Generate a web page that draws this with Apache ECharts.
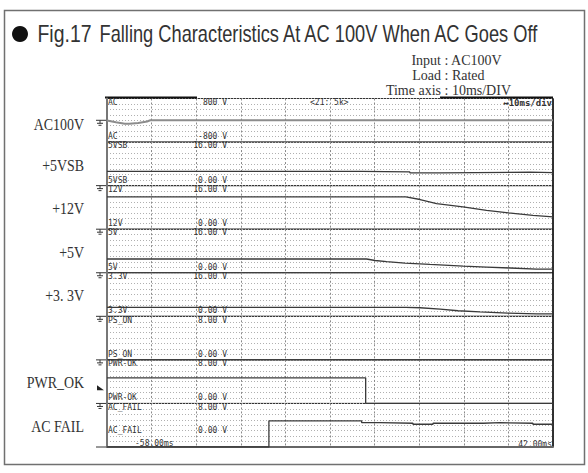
<!DOCTYPE html>
<html>
<head>
<meta charset="utf-8">
<script src="https://cdn.jsdelivr.net/npm/echarts@6/dist/echarts.min.js"></script>
<style>
html, body { margin: 0; padding: 0; background: #fff; }
#chart { width: 588px; height: 473px; }
</style>
</head>
<body>
<div id="chart"></div>
<script>
// time axis in ms, 0 = PWR_OK falling edge (trigger)
var timeMin = -58, timeMax = 42, timeStep = 10;

// channels, top to bottom
var chNames = ['AC', '5VSB', '12V', '5V', '3.3V', 'PS_ON', 'PWR-OK', 'AC_FAIL'];
var chLow = [-800, 0, 0, 0, 0, 0, 0, 0];
var chHigh = [800, 16, 16, 16, 16, 8, 8, 8];
var chLowText = ['-800 V', '0.00 V', '0.00 V', '0.00 V', '0.00 V', '0.00 V', '0.00 V', '0.00 V'];
var chHighText = ['800 V', '16.00 V', '16.00 V', '16.00 V', '16.00 V', '8.00 V', '8.00 V', '8.00 V'];
var sideLabels = ['AC100V', '+5VSB', '+12V', '+5V', '+3. 3V', '', 'PWR_OK', 'AC FAIL'];
var pwrOkTrigger = 2.8;

// traces, [ms, volts]
var acTrace = [[-58, -10], [-56, -75], [-54, -125], [-53, -130], [-51, -100], [-49, -45], [-48.3, 0], [42, 0]];
var vsb5Trace = [[-58, 5.25], [-0.9, 5.25], [-0.9, 5.05], [9.9, 5.05], [9.9, 4.7], [16.7, 4.7], [16.7, 4.95], [36.8, 4.95], [36.8, 4.8], [42, 4.8]];
var v12Trace = [[-58, 11.85], [9, 11.85], [12.2, 10.9], [15.9, 9.4], [21.8, 8.2], [27.1, 6.9], [32, 6.0], [37.5, 5.1], [42, 4.5]];
var v5Trace = [[-58, 5.05], [0.2, 5.05], [2.1, 4.5], [4.7, 4.05], [8.8, 3.55], [14.4, 3.05], [21.9, 2.45], [27.1, 2.1], [32.4, 1.75], [38.3, 1.35], [42, 1.35]];
var v33Trace = [[-58, 3.3], [9, 3.3], [12.2, 3.15], [16.7, 2.65], [20.7, 2.05], [25.6, 1.65], [31.9, 1.2], [38.4, 0.9], [42, 0.9]];
var psOnTrace = [[-58, 0], [42, 0]];
var pwrOkTrace = [[-58, 4.7], [0, 4.7], [0, 0], [42, 0]];
var acFailTrace = [[-58, 0], [-21.7, 0], [-21.7, 4.8], [-0.9, 4.8], [-0.9, 4.47], [3.2, 4.47], [3.2, 4.36], [10.6, 4.36], [10.6, 4.18], [15.1, 4.18], [15.1, 4.36], [26.4, 4.36], [26.4, 4.47], [30.1, 4.47], [30.1, 4.36], [37.5, 4.36], [37.5, 4.18], [42, 4.18]];
var traces = [acTrace, vsb5Trace, v12Trace, v5Trace, v33Trace, psOnTrace, pwrOkTrace, acFailTrace];

var titleNo = 'Fig.17';
var titleText = 'Falling Characteristics At AC 100V When AC Goes Off';
var infoKeys = ['Input', 'Load', 'Time axis'];
var infoVals = ['AC100V', 'Rated', '10ms/DIV'];

// layout
var PLOT_LEFT = 107, PLOT_RIGHT = 553, PLOT_TOP = 98.5, PLOT_BOTTOM = 447;
var CH_H = (PLOT_BOTTOM - PLOT_TOP) / chNames.length;
var MONO = '8px "DejaVu Sans Mono", monospace';
var INK = '#333';

var chart = echarts.init(document.getElementById('chart'), null, { renderer: 'svg' });

var grids = [], xAxes = [], yAxes = [], series = [];
chNames.forEach(function (name, i) {
  grids.push({
    left: PLOT_LEFT, width: PLOT_RIGHT - PLOT_LEFT,
    top: PLOT_TOP + i * CH_H, height: CH_H,
    show: true, borderColor: '#333', borderWidth: 1
  });
  xAxes.push({
    type: 'value', gridIndex: i, min: timeMin, max: timeMax, interval: timeStep,
    axisLine: { show: i === chNames.length - 1, onZero: false, lineStyle: { color: '#666', width: 2 } },
    axisTick: { show: false }, axisLabel: { show: false },
    splitLine: { show: true, lineStyle: { color: '#8a8a8a', type: [2, 2], width: 1 } }
  });
  yAxes.push({
    type: 'value', gridIndex: i, min: chLow[i], max: chHigh[i], interval: (chHigh[i] - chLow[i]) / 8,
    axisLine: { show: true, onZero: false, lineStyle: { color: '#777', width: 2 } },
    axisTick: { show: false }, axisLabel: { show: false },
    splitLine: { show: true, lineStyle: { color: '#b0b0b0', type: [1, 2], width: 1 } }
  });
  series.push({
    name: name, type: 'line', xAxisIndex: i, yAxisIndex: i,
    data: traces[i], showSymbol: false, silent: true,
    lineStyle: i === 0 ? { color: '#8c8c8c', width: 2 } : { color: '#3a3a3a', width: 1.3 }
  });
});

chart.setOption({
  animation: false,
  backgroundColor: '#fff',
  grid: grids, xAxis: xAxes, yAxis: yAxes, series: series
});

// helpers for decorations
var measure = document.createElement('canvas').getContext('2d');
function textWidth(s, font) { measure.font = font; return measure.measureText(s).width; }
function txt(x, y, s, font, align, extra) {
  var el = {
    type: 'text', x: x, y: y, silent: true,
    style: { text: s, font: font, fill: INK, align: align || 'left', textAlign: align || 'left',
      verticalAlign: 'middle', textVerticalAlign: 'middle' }
  };
  if (extra) for (var k in extra) el[k] = extra[k];
  return el;
}
function ln(x1, y1, x2, y2, color, w) {
  return { type: 'line', silent: true, shape: { x1: x1, y1: y1, x2: x2, y2: y2 },
    style: { stroke: color || '#333', lineWidth: w || 1 } };
}

var els = [];
// outer frame
els.push({ type: 'rect', silent: true, shape: { x: 4.5, y: 10.5, width: 580, height: 454 },
  style: { fill: 'none', stroke: '#707070', lineWidth: 1.5 } });

// title
els.push({ type: 'circle', silent: true, shape: { cx: 20, cy: 34, r: 8 }, style: { fill: '#111' } });
var titleFont = '23px "Liberation Sans", Arial, sans-serif';
els.push(txt(37.5, 34, titleNo, titleFont, 'left', { scaleX: 54 / textWidth(titleNo, titleFont) }));
els.push(txt(99.5, 34, titleText, titleFont, 'left', { scaleX: 441 / textWidth(titleText, titleFont) }));

// test conditions
var infoFont = '14px "Liberation Serif", "DejaVu Serif", serif';
infoKeys.forEach(function (k, j) {
  var y = 60 + j * 15;
  els.push(txt(441, y, k, infoFont, 'right'));
  els.push(txt(441, y, ' : ' + infoVals[j], infoFont, 'left'));
});

// scroll bar marks on the top edge
els.push(ln(105, 97.5, 197, 97.5, '#111', 2));
els.push(ln(440, 97.5, 553, 97.5, '#111', 2));
els.push(ln(PLOT_RIGHT, PLOT_TOP, PLOT_RIGHT, PLOT_BOTTOM, '#111', 1.5));

// side labels, channel texts, ground marks
var sideFont = '16px "Liberation Serif", "DejaVu Serif", serif';
chNames.forEach(function (name, i) {
  var top = PLOT_TOP + i * CH_H, bottom = top + CH_H;
  if (sideLabels[i]) {
    els.push(txt(84, top + CH_H / 2 + (i === 0 ? 4.5 : 1.5), sideLabels[i], sideFont, 'right', { scaleX: 0.87 }));
  }
  els.push(txt(108, top + 3.8, name, MONO, 'left'));
  els.push(txt(227, top + 3.8, chHighText[i], MONO, 'right'));
  var lowY = bottom - (i === chNames.length - 1 ? 17 : 5.5);
  els.push(txt(108, lowY, name, MONO, 'left'));
  els.push(txt(227, lowY, chLowText[i], MONO, 'right'));

  var gy = chart.convertToPixel({ yAxisIndex: i }, 0);
  els.push(ln(96, gy, PLOT_LEFT, gy, '#333', 1));
  if (i < chNames.length - 1) {
    els.push(ln(100, gy, 100, gy + 3, '#333', 1));
    els.push(ln(97, gy + 3, 103, gy + 3, '#333', 1));
    els.push(ln(98.5, gy + 5, 101.5, gy + 5, '#333', 1));
  }
});

// trigger level mark on PWR-OK
var ty = chart.convertToPixel({ yAxisIndex: 6 }, pwrOkTrigger);
els.push({ type: 'polygon', silent: true, shape: { points: [[97, ty - 3], [97, ty + 2], [104, ty + 2]] }, style: { fill: '#222' } });

// scope header and time stamps
els.push(txt(310, PLOT_TOP + 3.8, '<21: 5k>', MONO, 'left'));
els.push(txt(552, PLOT_TOP + 4.5, '\u219410ms/div', 'bold 9px "DejaVu Sans Mono", monospace', 'right'));
els.push(txt(135, PLOT_BOTTOM - 4, timeMin.toFixed(2) + 'ms', MONO, 'left'));
els.push(txt(552, PLOT_BOTTOM - 3, timeMax.toFixed(2) + 'ms', MONO, 'right'));

chart.setOption({ graphic: { elements: els } });
</script>
</body>
</html>
